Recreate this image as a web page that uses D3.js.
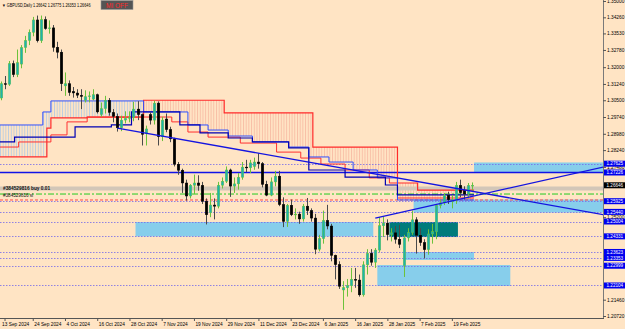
<!DOCTYPE html>
<html>
<head>
<meta charset="utf-8">
<script src="https://cdn.jsdelivr.net/npm/d3@7"></script>
<style>
body { margin: 0; background: #ffe4c4; }
svg { display: block; font-family: "Liberation Sans", Arial, sans-serif; }
</style>
</head>
<body>
<div id="container"></div>
<script>
// ---------------------------- DATA ----------------------------//
var dates = [
  "2024-09-12","2024-09-13","2024-09-16","2024-09-17","2024-09-18","2024-09-19","2024-09-20","2024-09-23","2024-09-24","2024-09-25","2024-09-26","2024-09-27","2024-09-30",
  "2024-10-01","2024-10-02","2024-10-03","2024-10-04","2024-10-07","2024-10-08","2024-10-09","2024-10-10","2024-10-11","2024-10-14","2024-10-15","2024-10-16","2024-10-17","2024-10-18","2024-10-21","2024-10-22","2024-10-23","2024-10-24","2024-10-25","2024-10-28","2024-10-29","2024-10-30","2024-10-31",
  "2024-11-01","2024-11-04","2024-11-05","2024-11-06","2024-11-07","2024-11-08","2024-11-11","2024-11-12","2024-11-13","2024-11-14","2024-11-15","2024-11-18","2024-11-19","2024-11-20","2024-11-21","2024-11-22","2024-11-25","2024-11-26","2024-11-27","2024-11-28","2024-11-29",
  "2024-12-02","2024-12-03","2024-12-04","2024-12-05","2024-12-06","2024-12-09","2024-12-10","2024-12-11","2024-12-12","2024-12-13","2024-12-16","2024-12-17","2024-12-18","2024-12-19","2024-12-20","2024-12-23","2024-12-24","2024-12-26","2024-12-27","2024-12-30","2024-12-31",
  "2025-01-02","2025-01-03","2025-01-06","2025-01-07","2025-01-08","2025-01-09","2025-01-10","2025-01-13","2025-01-14","2025-01-15","2025-01-16","2025-01-17","2025-01-20","2025-01-21","2025-01-22","2025-01-23","2025-01-24","2025-01-27","2025-01-28","2025-01-29","2025-01-30","2025-01-31",
  "2025-02-03","2025-02-04","2025-02-05","2025-02-06","2025-02-07","2025-02-10","2025-02-11","2025-02-12","2025-02-13","2025-02-14","2025-02-17","2025-02-18","2025-02-19","2025-02-20","2025-02-21","2025-02-24","2025-02-25","2025-02-26"
];

var opens = [
  1.3060,1.3125,1.3122,1.3216,1.3166,1.3214,1.3289,1.3321,1.3358,1.3414,1.3320,1.3415,1.3375,
  1.3378,1.3290,1.3268,1.3115,1.3125,1.3090,1.3083,1.3073,1.3050,1.3066,1.3055,1.3075,1.2985,1.3012,1.3050,1.2995,1.2977,1.2925,1.2960,1.2968,1.2972,1.3010,1.2985,
  1.2900,1.2985,1.2960,1.3037,1.2885,1.2965,1.2917,1.2875,1.2760,1.2733,1.2675,1.2616,1.2665,1.2675,1.2664,1.2592,1.2540,1.2575,1.2570,1.2665,1.2683,
  1.2734,1.2661,1.2671,1.2701,1.2747,1.2744,1.2750,1.2770,1.2762,1.2669,1.2620,1.2680,1.2706,1.2577,1.2501,1.2574,1.2531,1.2534,1.2512,1.2570,1.2550,
  1.2516,1.2375,1.2423,1.2505,1.2480,1.2347,1.2305,1.2190,1.2200,1.2209,1.2238,1.2235,1.2168,1.2304,1.2356,1.2316,1.2371,1.2481,1.2493,1.2441,1.2449,1.2420,
  1.2300,1.2426,1.2450,1.2508,1.2438,1.2405,1.2373,1.2444,1.2454,1.2573,1.2585,1.2619,1.2590,1.2598,1.2664,1.2640,1.2625,1.26642
];
var highs = [
  1.3135,1.3160,1.3228,1.3230,1.3280,1.3300,1.3342,1.3371,1.3428,1.3434,1.3434,1.3430,1.3412,
  1.3391,1.3315,1.3280,1.3176,1.3140,1.3110,1.3100,1.3100,1.3095,1.3090,1.3100,1.3080,1.3040,1.3070,1.3060,1.3010,1.2990,1.2980,1.3000,1.3000,1.3043,1.3046,1.2990,
  1.2935,1.2995,1.3048,1.3045,1.2975,1.2990,1.2930,1.2880,1.2770,1.2740,1.2690,1.2670,1.2713,1.2710,1.2680,1.2605,1.2630,1.2605,1.2680,1.2700,1.2750,
  1.2740,1.2700,1.2720,1.2770,1.2780,1.2780,1.2790,1.2810,1.2770,1.2685,1.2700,1.2730,1.2730,1.2610,1.2580,1.2600,1.2560,1.2545,1.2580,1.2607,1.2560,
  1.2535,1.2440,1.2550,1.2576,1.2490,1.2350,1.2320,1.2230,1.2240,1.2290,1.2290,1.2260,1.2320,1.2375,1.2375,1.2380,1.2520,1.2523,1.2510,1.2470,1.2480,1.2485,
  1.2440,1.2470,1.2550,1.2520,1.2470,1.2420,1.2465,1.2490,1.2580,1.2600,1.2630,1.2635,1.2620,1.2680,1.2690,1.2660,1.2675,1.26775
];
var lows = [
  1.3050,1.3100,1.3115,1.3155,1.3155,1.3195,1.3265,1.3300,1.3340,1.3312,1.3310,1.3370,1.3352,
  1.3270,1.3240,1.3092,1.3070,1.3070,1.3062,1.3060,1.3010,1.3040,1.3040,1.3050,1.2990,1.2975,1.2990,1.2980,1.2950,1.2908,1.2910,1.2945,1.2950,1.2955,1.2960,1.2845,
  1.2845,1.2940,1.2940,1.2845,1.2865,1.2905,1.2860,1.2750,1.2712,1.2630,1.2595,1.2605,1.2625,1.2640,1.2580,1.2487,1.2520,1.2510,1.2560,1.2650,1.2675,
  1.2612,1.2630,1.2645,1.2690,1.2725,1.2720,1.2735,1.2740,1.2655,1.2615,1.2615,1.2660,1.2570,1.2475,1.2476,1.2525,1.2510,1.2490,1.2500,1.2530,1.2500,
  1.2352,1.2365,1.2400,1.2465,1.2320,1.2238,1.2195,1.2100,1.2160,1.2180,1.2200,1.2160,1.2160,1.2260,1.2300,1.2290,1.2360,1.2430,1.2415,1.2410,1.2400,1.2380,
  1.2249,1.2410,1.2440,1.2355,1.2390,1.2333,1.2350,1.2400,1.2420,1.2560,1.2575,1.2580,1.2560,1.2580,1.2610,1.2600,1.2605,1.26353
];
var closes = [
  1.3125,1.3122,1.3216,1.3166,1.3220,1.3289,1.3321,1.3358,1.3414,1.3320,1.3415,1.3375,1.3378,
  1.3290,1.3268,1.3125,1.3125,1.3085,1.3083,1.3073,1.3067,1.3066,1.3070,1.3075,1.2997,1.3012,1.3050,1.2995,1.2977,1.2925,1.2960,1.2968,1.2972,1.3010,1.2985,1.2896,
  1.2920,1.2960,1.3037,1.2885,1.2960,1.2917,1.2875,1.2760,1.2733,1.2675,1.2616,1.2665,1.2675,1.2664,1.2592,1.2531,1.2575,1.2570,1.2665,1.2683,1.2734,
  1.2661,1.2671,1.2701,1.2747,1.2744,1.2766,1.2770,1.2762,1.2669,1.2620,1.2680,1.2706,1.2577,1.2501,1.2574,1.2531,1.2534,1.2512,1.2570,1.2550,1.2516,
  1.2375,1.2423,1.2505,1.2480,1.2347,1.2305,1.2207,1.2200,1.2209,1.2238,1.2235,1.2168,1.2304,1.2356,1.2316,1.2371,1.2481,1.2493,1.2441,1.2449,1.2420,1.2397,
  1.2426,1.2450,1.2508,1.2438,1.2405,1.2373,1.2444,1.2454,1.2573,1.2585,1.2619,1.2599,1.2598,1.2664,1.2631,1.2625,1.2664,1.26646
];

// ichimoku-style lines: [bar index where the value starts, price]
var spanA = [[0,1.2938],[11,1.2997],[13,1.3047],[36,1.2997],[47,1.2938],[52,1.2915],[57,1.2888],[63,1.2861],[72,1.2838],[77,1.2793],[82,1.2770],[88,1.2734],[94,1.2698],[99,1.2598],[118,1.2598]];
var spanB = [[0,1.2793],[12,1.2924],[13,1.2970],[22,1.2974],[36,1.3050],[56,1.2993],[78,1.2838],[99,1.2675],[104,1.2643],[118,1.2643]];
var tenkan = [[0,1.2838],[5,1.2861],[13,1.2893],[17,1.2952],[22,1.2974],[43,1.2952],[47,1.2906],[52,1.2883],[60,1.2856],[69,1.2815],[75,1.2788],[80,1.2761],[86,1.2734],[92,1.2698],[97,1.2675],[99,1.2607],[118,1.2607]];
var kijun = [[0,1.2861],[4,1.2883],[19,1.2929],[28,1.2938],[33,1.2997],[45,1.2938],[50,1.2902],[57,1.2879],[63,1.2861],[72,1.2834],[77,1.2734],[86,1.2702],[96,1.2666],[99,1.2621],[118,1.2621]];

var priceTicks = [1.35000,1.34260,1.33530,1.32780,1.32000,1.31240,1.30500,1.29740,1.28980,1.28240,1.27480,1.26720,1.25960,1.25200,1.24440,1.23680,1.22940,1.22180,1.21460,1.20720];
var dateTicks = ["2024-09-13","2024-09-24","2024-10-04","2024-10-16","2024-10-28","2024-11-07","2024-11-19","2024-11-29","2024-12-11","2024-12-23","2025-01-06","2025-01-16","2025-01-28","2025-02-07","2025-02-19"];

var dottedLevels = [1.27625,1.25925,1.25440,1.25004,1.24331,1.23623,1.23353,1.22999,1.22104];
var solidLevels = [1.27226];
var orderLevel = 1.2625;   // green dash-dot
var stopLevel = 1.2598;    // red dashed
var greyLevel = 1.2650;
var lastPrice = 1.26646;

// zones: bar index from/to, price top/bottom
var zones = [
  { from: 118, to: 150, top: 1.2768, bottom: 1.2725, dark: false },
  { from: 34,  to: 93,  top: 1.2498, bottom: 1.2433, dark: false },
  { from: 103, to: 150, top: 1.2600, bottom: 1.2541, dark: false },
  { from: 94,  to: 127, top: 1.2303, bottom: 1.2208, dark: false },
  { from: 101, to: 118, top: 1.2362, bottom: 1.2326, dark: false },
  { from: 97,  to: 114, top: 1.2498, bottom: 1.2430, dark: true }
];
// trend lines: two anchor points (bar index, price), drawn as rays to the right
var trends = [
  [[29, 1.2924], [100, 1.2693]],
  [[93, 1.2516], [117, 1.2614]]
];

var title = "GBPUSD,Daily  1.26642 1.26775 1.26353 1.26646";
var orderText = "#384529816 buy 0.01";
var stopText = "#384529816 sl";

// ---------------------------- SETUP ----------------------------//
var width = 625, height = 329;
var plotW = 603, plotH = 318;

var svg = d3.select("#container").append("svg")
  .attr("width", width).attr("height", height);

svg.append("rect").attr("width", width).attr("height", height).attr("fill", "#ffe4c4");

var x = d3.scaleLinear().domain([0, 150]).range([0.5, 605]);
var y = d3.scaleLinear().domain([1.35045, 1.2063]).range([0, plotH]);

var parse = d3.timeParse("%Y-%m-%d");
var fmt = d3.timeFormat("%-d %b %Y");

var defs = svg.append("defs");
defs.append("clipPath").attr("id", "plotClip")
  .append("rect").attr("width", plotW).attr("height", plotH);

function hatch(id, color) {
  var p = defs.append("pattern").attr("id", id)
    .attr("patternUnits", "userSpaceOnUse").attr("width", 2.7).attr("height", 8);
  p.append("line").attr("x1", 0.5).attr("x2", 0.5).attr("y1", 0).attr("y2", 8)
    .attr("stroke", color).attr("stroke-width", 0.7);
}
hatch("hatchBlue", "#9cc3ec");
hatch("hatchRed", "#f6ad98");

var stepX = function (d) { return x(d[0]) - 2; };
var areaBelow = d3.area().x(stepX).y0(plotH).y1(function (d) { return y(d[1]); }).curve(d3.curveStepAfter);
var areaAbove = d3.area().x(stepX).y0(0).y1(function (d) { return y(d[1]); }).curve(d3.curveStepAfter);
var stepLine = d3.line().x(stepX).y(function (d) { return y(d[1]); }).curve(d3.curveStepAfter);

defs.append("clipPath").attr("id", "belowA").append("path").attr("d", areaBelow(spanA));
defs.append("clipPath").attr("id", "aboveB").append("path").attr("d", areaAbove(spanB));
defs.append("clipPath").attr("id", "belowB").append("path").attr("d", areaBelow(spanB));
defs.append("clipPath").attr("id", "aboveA").append("path").attr("d", areaAbove(spanA));

var plot = svg.append("g").attr("clip-path", "url(#plotClip)");

// ---------------------------- ZONES ----------------------------//
plot.selectAll(".zone").data(zones).enter().append("rect")
  .attr("x", function (d) { return x(d.from) - 2; })
  .attr("width", function (d) { return x(d.to) - x(d.from); })
  .attr("y", function (d) { return y(d.top); })
  .attr("height", function (d) { return y(d.bottom) - y(d.top); })
  .attr("fill", function (d) { return d.dark ? "#007b7b" : "#87ceeb"; });

// ---------------------------- CLOUD ----------------------------//
plot.append("g").attr("clip-path", "url(#belowA)")
  .append("rect").attr("width", plotW).attr("height", plotH)
  .attr("clip-path", "url(#aboveB)").attr("fill", "url(#hatchBlue)");
plot.append("g").attr("clip-path", "url(#belowB)")
  .append("rect").attr("width", plotW).attr("height", plotH)
  .attr("clip-path", "url(#aboveA)").attr("fill", "url(#hatchRed)");

// ---------------------------- LEVELS ----------------------------//
plot.append("line").attr("x1", 0).attr("x2", plotW)
  .attr("y1", y(greyLevel)).attr("y2", y(greyLevel))
  .attr("stroke", "#d2c6b8").attr("stroke-width", 4);

plot.selectAll(".dot").data(dottedLevels).enter().append("line")
  .attr("x1", 0).attr("x2", plotW)
  .attr("y1", function (d) { return Math.round(y(d)) + 0.5; })
  .attr("y2", function (d) { return Math.round(y(d)) + 0.5; })
  .attr("stroke", "#7468ea").attr("stroke-width", 0.8).attr("stroke-dasharray", "1.5,1.5");

plot.append("line").attr("x1", 0).attr("x2", plotW)
  .attr("y1", y(orderLevel)).attr("y2", y(orderLevel))
  .attr("stroke", "#22cc22").attr("stroke-width", 1).attr("stroke-dasharray", "6,2,2,2");
plot.append("line").attr("x1", 0).attr("x2", plotW)
  .attr("y1", y(stopLevel)).attr("y2", y(stopLevel))
  .attr("stroke", "#ff4a4a").attr("stroke-width", 1).attr("stroke-dasharray", "3,2");

plot.selectAll(".solid").data(solidLevels).enter().append("line")
  .attr("x1", 0).attr("x2", plotW)
  .attr("y1", function (d) { return y(d); }).attr("y2", function (d) { return y(d); })
  .attr("stroke", "#1212e6").attr("stroke-width", 1.3);

plot.append("text").attr("x", 3).attr("y", y(greyLevel) + 1.5)
  .attr("font-size", 4.8).attr("font-weight", "bold").attr("fill", "#111").text(orderText);
plot.append("text").attr("x", 3).attr("y", y(orderLevel) + 3)
  .attr("font-size", 4.6).attr("fill", "#111").text(stopText);

// ---------------------------- INDICATOR LINES ----------------------------//
plot.append("path").attr("d", stepLine(spanB)).attr("fill", "none").attr("stroke", "#ff2a2a").attr("stroke-width", 1.2);
plot.append("path").attr("d", stepLine(tenkan)).attr("fill", "none").attr("stroke", "#ff3030").attr("stroke-width", 1);
plot.append("path").attr("d", stepLine(spanA)).attr("fill", "none").attr("stroke", "#3050ff").attr("stroke-width", 1);
plot.append("path").attr("d", stepLine(kijun)).attr("fill", "none").attr("stroke", "#0000b4").attr("stroke-width", 1.2);

// ---------------------------- CANDLES ----------------------------//
var bars = dates.map(function (d, i) {
  return { date: d, i: i, o: opens[i], h: highs[i], l: lows[i], c: closes[i] };
});

var candle = plot.selectAll(".candle").data(bars).enter().append("g");
candle.append("line")
  .attr("x1", function (d) { return Math.round(x(d.i)) + 0.5; })
  .attr("x2", function (d) { return Math.round(x(d.i)) + 0.5; })
  .attr("y1", function (d) { return y(d.h); })
  .attr("y2", function (d) { return y(d.l); })
  .attr("stroke", function (d) { return d.c >= d.o ? "#6cc23a" : "#4a4a4a"; })
  .attr("stroke-width", 1);
candle.append("rect")
  .attr("x", function (d) { return Math.round(x(d.i)) - 0.8; })
  .attr("width", 2.6)
  .attr("y", function (d) { return y(Math.max(d.o, d.c)); })
  .attr("height", function (d) { return Math.max(0.8, Math.abs(y(d.o) - y(d.c))); })
  .attr("fill", function (d) { return d.c >= d.o ? "#20b2aa" : "#000"; })
  .attr("stroke", function (d) { return d.c >= d.o ? "#6cc23a" : "#000"; })
  .attr("stroke-width", 0.4);

// ---------------------------- TREND LINES ----------------------------//
plot.selectAll(".trend").data(trends).enter().append("line")
  .attr("x1", function (d) { return x(d[0][0]); })
  .attr("y1", function (d) { return y(d[0][1]); })
  .attr("x2", function (d) { return x(150); })
  .attr("y2", function (d) {
    var slope = (d[1][1] - d[0][1]) / (d[1][0] - d[0][0]);
    return y(d[0][1] + slope * (150 - d[0][0]));
  })
  .attr("stroke", "#1414e0").attr("stroke-width", 1.3);

// ---------------------------- AXES ----------------------------//
var tagValues = dottedLevels.concat(solidLevels, [lastPrice]);
var visibleTicks = priceTicks.filter(function (t) {
  return !tagValues.some(function (v) { return Math.abs(y(v) - y(t)) < 3; });
});

var yAxis = d3.axisRight(y).tickValues(visibleTicks).tickSize(3)
  .tickFormat(d3.format(".5f"));
var gy = svg.append("g").attr("transform", "translate(" + plotW + ",0)").call(yAxis);
gy.select(".domain").attr("d", "M0.5,0V" + plotH).attr("stroke", "#7a7a7a");
gy.selectAll("line").attr("stroke", "#555");
gy.selectAll("text").attr("font-size", 4.8).attr("x", 4).attr("fill", "#000")
  .attr("font-family", "Liberation Sans, Arial, sans-serif");

var tickIdx = dateTicks.map(function (d) { return dates.indexOf(d); });
var xAxis = d3.axisBottom(x).tickValues(tickIdx).tickSize(3)
  .tickFormat(function (i) { return fmt(parse(dates[i])); });
var gx = svg.append("g").attr("transform", "translate(0," + plotH + ")").call(xAxis);
gx.select(".domain").attr("d", "M0,0.5H" + (plotW + 1)).attr("stroke", "#555");
gx.selectAll("line").attr("stroke", "#555");
gx.selectAll("text").attr("font-size", 4.8).attr("text-anchor", "start").attr("y", 5)
  .attr("x", function (i) { return i === tickIdx[0] ? -3 : 1; })
  .attr("fill", "#000").attr("font-family", "Liberation Sans, Arial, sans-serif");

// ---------------------------- PRICE LABELS ----------------------------//
var tags = dottedLevels.concat(solidLevels).map(function (v) { return { v: v, color: "#0000ee" }; });
tags.push({ v: lastPrice, color: "#000" });
var tag = svg.selectAll(".tag").data(tags).enter().append("g")
  .attr("transform", function (d) { return "translate(" + (plotW + 1) + "," + y(d.v) + ")"; });
tag.append("rect").attr("x", 0).attr("y", -3).attr("width", 21).attr("height", 6)
  .attr("fill", function (d) { return d.color; });
tag.append("text").attr("x", 2.5).attr("y", 1.7).attr("font-size", 4.6).attr("fill", "#fff")
  .text(function (d) { return d3.format(".5f")(d.v); });

// ---------------------------- TITLE ----------------------------//
svg.append("g").attr("transform", "translate(2,6.5) scale(0.82,1)")
  .append("text").attr("x", 0).attr("y", 0).attr("font-size", 4.6).attr("fill", "#000")
  .text("\u25BC " + title);
svg.append("rect").attr("x", 101).attr("y", 0.5).attr("width", 32).attr("height", 9)
  .attr("fill", "#555").attr("stroke", "#999").attr("stroke-width", 0.6);
svg.append("text").attr("x", 106).attr("y", 7.5).attr("font-size", 6.5).attr("fill", "#ff2a2a")
  .text("MI OFF");
</script>
</body>
</html>
